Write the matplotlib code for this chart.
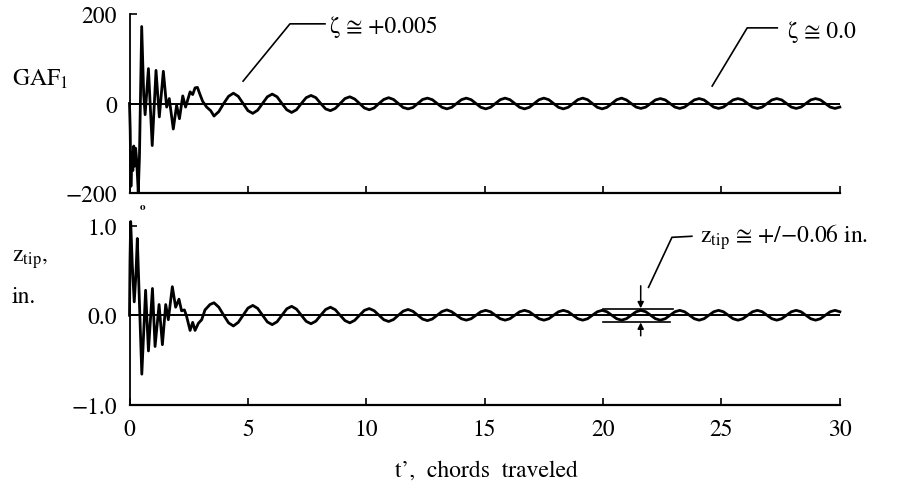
import numpy as np
import matplotlib
matplotlib.use("Agg")
import matplotlib.pyplot as plt

plt.rcParams['font.family'] = ['STIXGeneral', 'DejaVu Sans']
plt.rcParams['mathtext.fontset'] = 'stix'

# ---------------- data ----------------
x_ticks = [0, 5, 10, 15, 20, 25, 30]
gaf_ticks = [-200, 0, 200]
gaf_ticklabels = ['\u2212200', '0', '200']
z_ticks = [-1.0, 0.0, 1.0]
z_ticklabels = ['\u22121.0', '0.0', '1.0']

# early transient of GAF1 (t', GAF1)
gaf_t_transient = [0.0, 0.03, 0.06, 0.10, 0.14, 0.18, 0.22, 0.26, 0.30, 0.37, 0.42,
                   0.515, 0.60, 0.66, 0.80, 0.96, 1.12, 1.26, 1.43, 1.57, 1.68,
                   1.85, 1.99, 2.11, 2.25, 2.37, 2.56, 2.67, 2.77, 2.87, 2.98,
                   3.09, 3.26, 3.43]
gaf_v_transient = [0, -60, -185, -110, -150, -95, -140, -100, -125, -198, -120,
                   172, 20, -25, 78, -94, 74, -30, 72, -8, 11,
                   -57, -4, -34, 17, -8, 26, 20, 35, 36, 20,
                   5, -8, -16]

# early transient of z_tip (t', in.)
z_t_transient = [0.0, 0.02, 0.05, 0.12, 0.20, 0.27, 0.33, 0.52, 0.68, 0.80, 0.97,
                 1.08, 1.25, 1.39, 1.53, 1.64, 1.81, 1.95, 2.09, 2.20, 2.32,
                 2.41, 2.56, 2.67, 2.77, 2.91, 3.05, 3.19, 3.40]
z_v_transient = [0.0, 0.60, 1.05, 0.55, 0.15, 0.45, 0.86, -0.66, 0.28, -0.40, 0.30,
                 -0.35, 0.12, -0.33, 0.12, -0.05, 0.32, 0.09, 0.18, 0.05, 0.06,
                 -0.01, -0.17, -0.08, -0.17, -0.09, -0.05, 0.06, 0.12]

# later oscillation, read every 0.205 chords from t' = 3.57
steady_start = 3.57
steady_step = 0.205
gaf_steady = [-28, -18, 0, 16, 23, 16, 0, -16, -22, -15, 0, 15, 21, 15, 0, -14,
              -20, -14, 0, 13, 18, 13, 0, -12, -16, -11, 0, 11, 15, 10, 0, -10,
              -14, -10, 0, 9, 13, 9, 0, -9, -12, -9, 0, 9, 12,
              8.5, 0, -8.5, -12, -8.5, 0, 8.5, 12,
              8.5, 0, -8.5, -12, -8.5, 0, 8.5, 12,
              8.5, 0, -8.5, -12, -8.5, 0, 8.5, 12,
              8.5, 0, -8.5, -12, -8.5, 0, 8.5, 12,
              8.5, 0, -8.5, -12, -8.5, 0, 8.5, 12,
              8, 0, -8, -11, -8, 0, 8, 11,
              8, 0, -8, -11, -8, 0, 8, 11,
              8, 0, -8, -11, -8, 0, 8, 11,
              8, 0, -8, -11, -8, 0, 8, 11,
              8, 0, -8, -11, -8, 0, 8, 11,
              8, 0, -8, -11, -8]
z_steady = [0.14, 0.09, 0, -0.085, -0.12, -0.08, 0, 0.08, 0.11, 0.077, 0, -0.075,
            -0.105, -0.073, 0, 0.072, 0.10, 0.069, 0, -0.068, -0.095, -0.066, 0, 0.064,
            0.09, 0.062, 0, -0.06, -0.085, -0.057, 0, 0.055, 0.075, 0.051, 0, -0.05,
            -0.07, -0.048, 0, 0.046, 0.065, 0.044, 0, -0.043, -0.06, -0.042, 0, 0.042, 0.06,
            0.039, 0, -0.039, -0.055, -0.039, 0, 0.039, 0.055,
            0.039, 0, -0.039, -0.055, -0.039, 0, 0.039, 0.055,
            0.039, 0, -0.039, -0.055, -0.039, 0, 0.039, 0.055,
            0.039, 0, -0.039, -0.055, -0.039, 0, 0.039, 0.055,
            0.039, 0, -0.039, -0.055, -0.039, 0, 0.039, 0.055,
            0.039, 0, -0.039, -0.055, -0.039, 0, 0.039, 0.055,
            0.039, 0, -0.039, -0.055, -0.039, 0, 0.039, 0.055,
            0.039, 0, -0.039, -0.055, -0.039, 0, 0.039, 0.055,
            0.039, 0, -0.039, -0.055, -0.039, 0, 0.039, 0.055,
            0.039, 0, -0.039, -0.055, -0.039, 0, 0.039, 0.055,
            0.039]

gaf_t = np.concatenate([gaf_t_transient, steady_start + steady_step * np.arange(len(gaf_steady))])
gaf_v = np.concatenate([gaf_v_transient, gaf_steady])
z_t = np.concatenate([z_t_transient, steady_start + steady_step * np.arange(len(z_steady))])
z_v = np.concatenate([z_v_transient, z_steady])

# ---------------- figure ----------------
W, H = 910, 489
fig = plt.figure(figsize=(W / 100, H / 100), dpi=100)
fs = 17

ax1 = fig.add_axes([129.5 / W, 1 - 194 / H, 710 / W, 179 / H])
ax2 = fig.add_axes([129.5 / W, 1 - 405.5 / H, 710 / W, 178.5 / H])

for ax in (ax1, ax2):
    ax.spines['top'].set_visible(False)
    ax.spines['right'].set_visible(False)
    ax.spines['left'].set_linewidth(1.3)
    ax.spines['bottom'].set_linewidth(1.6)
    ax.set_xlim(0, 30)
    ax.set_xticks(x_ticks)
    ax.tick_params(axis='x', direction='in', length=5, width=1.2, pad=10, labelsize=fs)
    ax.tick_params(axis='y', direction='in', length=5, width=1.2, pad=9, labelsize=fs)
    ax.axhline(0, color='k', lw=1.4, zorder=2)

ax1.set_ylim(-200, 200)
ax1.set_yticks(gaf_ticks)
ax1.set_yticklabels(gaf_ticklabels)
ax1.set_xticklabels([])
ax1.plot(gaf_t, gaf_v, color='k', lw=2.0, solid_joinstyle='round', zorder=3, clip_on=False)

ax2.set_ylim(-1.0, 1.0)
ax2.set_yticks(z_ticks)
ax2.set_yticklabels(z_ticklabels)
ax2.plot(z_t, z_v, color='k', lw=2.0, solid_joinstyle='round', zorder=3, clip_on=False)

# y labels and x label
fig.text(12 / W, 1 - 86 / H, 'GAF$_{\\mathrm{1}}$', fontsize=fs, ha='left', va='baseline')
fig.text(12 / W, 1 - 262 / H, 'z$_{\\mathrm{tip}}$,', fontsize=fs, ha='left', va='baseline')
fig.text(12 / W, 1 - 303 / H, 'in.', fontsize=fs, ha='left', va='baseline')
fig.text(486 / W, 1 - 471 / H, 't\u2019,  chords  traveled', fontsize=fs, ha='center', va='center')
fig.text(142.5 / W, 1 - 208 / H, 'o', fontsize=8, fontweight='bold', ha='center', va='center')

# annotations, top panel
ax1.plot([4.80, 6.78, 8.26], [50, 178, 178], color='k', lw=1.2, clip_on=False)
ax1.text(8.47, 159, '\u03b6 \u2245 +0.005', fontsize=fs, ha='left', va='baseline')
ax1.plot([24.62, 26.10, 27.37], [39, 169, 169], color='k', lw=1.2, clip_on=False)
ax1.text(27.83, 149, '\u03b6 \u2245 0.0', fontsize=fs, ha='left', va='baseline')

# annotations, bottom panel
ax2.plot([21.93, 22.92, 23.76], [0.313, 0.873, 0.885], color='k', lw=1.2, clip_on=False)
ax2.text(24.11, 0.82, 'z$_{\\mathrm{tip}}$ \u2245 +/\u22120.06 in.', fontsize=fs,
         ha='left', va='baseline')
ax2.plot([20.0, 22.98], [0.075, 0.075], color='k', lw=1.2)
ax2.plot([20.0, 22.85], [-0.078, -0.078], color='k', lw=1.2)
arrow = dict(arrowstyle='-|>', color='k', lw=1.1, mutation_scale=9, shrinkA=0, shrinkB=0)
ax2.annotate('', xy=(21.6, 0.078), xytext=(21.6, 0.33), arrowprops=arrow)
ax2.annotate('', xy=(21.6, -0.081), xytext=(21.6, -0.23), arrowprops=arrow)

fig.savefig('out.png', dpi=100)
